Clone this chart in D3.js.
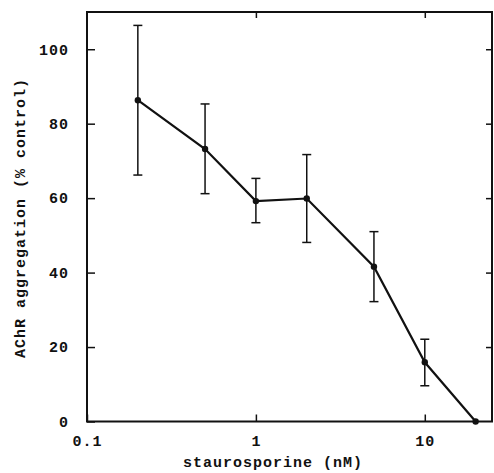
<!DOCTYPE html>
<meta charset="utf-8">
<style>
  html, body { margin:0; padding:0; background:#fff; overflow:hidden }
  text { font-family: "Liberation Mono", "DejaVu Sans Mono", monospace; font-weight: bold; fill: #111; }
</style>
<svg id="chart" width="494" height="473"></svg>
<script src="https://cdn.jsdelivr.net/npm/d3@7"></script>
<script>

// staurosporine dose (nM) vs AChR aggregation (% control)
var doses   = [0.2, 0.5, 1, 2, 5, 10, 20];
var means   = [86.3, 73.2, 59.2, 59.9, 41.6, 15.9, 0];
var errHigh = [106.4, 85.3, 65.3, 71.7, 51.0, 22.1, 0];
var errLow  = [66.2, 61.2, 53.4, 48.1, 32.2, 9.6, 0];

var xTicks = [0.1, 1, 10];
var yTicks = [0, 20, 40, 60, 80, 100];

var pts = doses.map(function(d, i) {
    return { x: d, y: means[i], hi: errHigh[i], lo: errLow[i] };
});

var svg = d3.select("#chart");

// plot box (window.top is reserved, so use own names)
var pLeft = 87, pRight = 492, pTop = 12, pBottom = 421.5;

var x = d3.scaleLog().domain([0.1, 25]).range([pLeft, pRight]);
var y = d3.scaleLinear().domain([0, 110]).range([pBottom, pTop]);

// frame
svg.append("rect")
    .attr("x", pLeft).attr("y", pTop)
    .attr("width", pRight - pLeft).attr("height", pBottom - pTop)
    .attr("fill", "none").attr("stroke", "#111").attr("stroke-width", 2);

// axes, ticks pointing inward
var axB = svg.append("g").attr("transform", "translate(0," + pBottom + ")")
    .call(d3.axisBottom(x).tickValues(xTicks).tickSizeInner(-7).tickSizeOuter(0)
          .tickPadding(14).tickFormat(function(d) { return d; }));
var axT = svg.append("g").attr("transform", "translate(0," + pTop + ")")
    .call(d3.axisTop(x).tickValues(xTicks.slice(1)).tickSizeInner(-6).tickSizeOuter(0).tickFormat(""));
var axL = svg.append("g").attr("transform", "translate(" + pLeft + ",0)")
    .call(d3.axisLeft(y).tickValues(yTicks).tickSizeInner(-8).tickSizeOuter(0).tickPadding(18));
var axR = svg.append("g").attr("transform", "translate(" + pRight + ",0)")
    .call(d3.axisRight(y).tickValues(yTicks.slice(1)).tickSizeInner(-6).tickSizeOuter(0).tickFormat(""));

[axB, axT, axL, axR].forEach(function(a) {
    a.attr("font-family", null).attr("font-size", null);
    a.select(".domain").remove();
    a.selectAll(".tick line").attr("stroke", "#111").attr("stroke-width", 1.5);
    a.selectAll("text").attr("font-size", 15).attr("fill", "#111").attr("letter-spacing", 1);
});
axB.selectAll("text").attr("dy", "0.71em");

// error bars
var eb = svg.append("g").selectAll("g").data(pts.filter(function(d) { return d.hi > d.lo; }))
    .enter().append("g").attr("stroke", "#111").attr("stroke-width", 1.5);
eb.append("line")
    .attr("x1", function(d) { return x(d.x); }).attr("x2", function(d) { return x(d.x); })
    .attr("y1", function(d) { return y(d.hi); }).attr("y2", function(d) { return y(d.lo); });
eb.append("line")
    .attr("x1", function(d) { return x(d.x) - 4.5; }).attr("x2", function(d) { return x(d.x) + 4.5; })
    .attr("y1", function(d) { return y(d.hi); }).attr("y2", function(d) { return y(d.hi); });
eb.append("line")
    .attr("x1", function(d) { return x(d.x) - 4.5; }).attr("x2", function(d) { return x(d.x) + 4.5; })
    .attr("y1", function(d) { return y(d.lo); }).attr("y2", function(d) { return y(d.lo); });

// data line
var line = d3.line().x(function(d) { return x(d.x); }).y(function(d) { return y(d.y); });
svg.append("path").datum(pts)
    .attr("d", line).attr("fill", "none").attr("stroke", "#111").attr("stroke-width", 2.2);

svg.append("g").selectAll("circle").data(pts).enter().append("circle")
    .attr("cx", function(d) { return x(d.x); })
    .attr("cy", function(d) { return y(d.y); })
    .attr("r", 3.2).attr("fill", "#111");

// axis titles
svg.append("text")
    .attr("x", 273).attr("y", 467)
    .attr("text-anchor", "middle").attr("font-size", 15).attr("letter-spacing", 1)
    .text("staurosporine (nM)");

svg.append("text")
    .attr("transform", "translate(25,218) rotate(-90)")
    .attr("text-anchor", "middle").attr("font-size", 15).attr("letter-spacing", 1)
    .text("AChR aggregation (% control)");

</script>
